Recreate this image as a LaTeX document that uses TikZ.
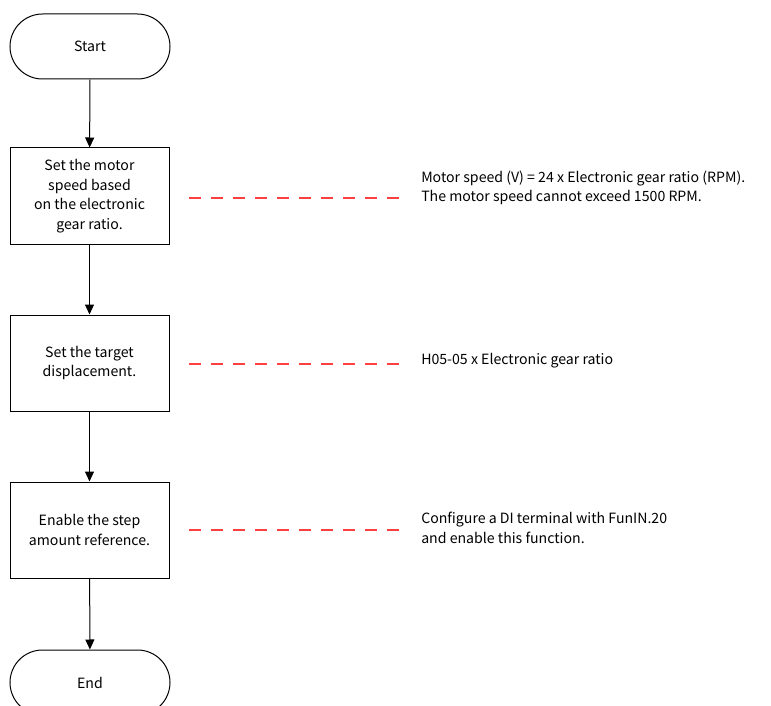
\documentclass[tikz,border=0pt]{standalone}
\usepackage{fontspec}
\setmainfont{Noto Sans CJK SC}
\usetikzlibrary{arrows.meta,shapes.misc,calc}
\begin{document}
\begin{tikzpicture}[x=0.75pt,y=-0.75pt,
  every node/.style={font=\fontsize{10.6pt}{14.6pt}\selectfont},
  term/.style={draw,line width=0.75pt,rounded rectangle,minimum width=160*0.75pt,minimum height=65*0.75pt,inner sep=0pt},
  procbox/.style={draw,line width=0.75pt,minimum width=159*0.75pt,minimum height=96*0.75pt,inner sep=0pt,align=center},
  flow/.style={line width=0.75pt,-{Triangle[length=10*0.75pt,width=9*0.75pt]}},
  note/.style={inner sep=0pt,anchor=west,align=left},
  dashline/.style={draw=red!75,line width=0.9pt,dash pattern=on 12*0.75pt off 10*0.75pt}]
\useasboundingbox (0,0) rectangle (771,706);
\node[term] (start) at (90,46.5) {Start};
\node[procbox] (b1) at (89.5,196) {Set the motor\\speed based\\on the electronic\\gear ratio.};
\node[procbox] (b2) at (89.5,363) {Set the target\\displacement.};
\node[procbox] (b3) at (89.5,530) {Enable the step\\amount reference.};
\node[term] (end) at (90,682.5) {End};
\draw[flow] (start) -- (b1);
\draw[flow] (b1) -- (b2);
\draw[flow] (b2) -- (b3);
\draw[flow] (b3) -- (end);
\node[note] (n1) at (421,188) {Motor speed (V) = 24 x Electronic gear ratio (RPM).\\The motor speed cannot exceed 1500 RPM.};
\node[note] (n2) at (421,361) {H05-05 x Electronic gear ratio};
\node[note] (n3) at (421,528) {Configure a DI terminal with FunIN.20\\and enable this function.};
\coordinate (d1a) at (189,198); \coordinate (d1b) at (403,198);
\coordinate (d2a) at (189,364); \coordinate (d2b) at (403,364);
\coordinate (d3a) at (189,530); \coordinate (d3b) at (403,530);
\draw[dashline] (d1a) -- (d1b);
\draw[dashline] (d2a) -- (d2b);
\draw[dashline] (d3a) -- (d3b);
\end{tikzpicture}
\end{document}
